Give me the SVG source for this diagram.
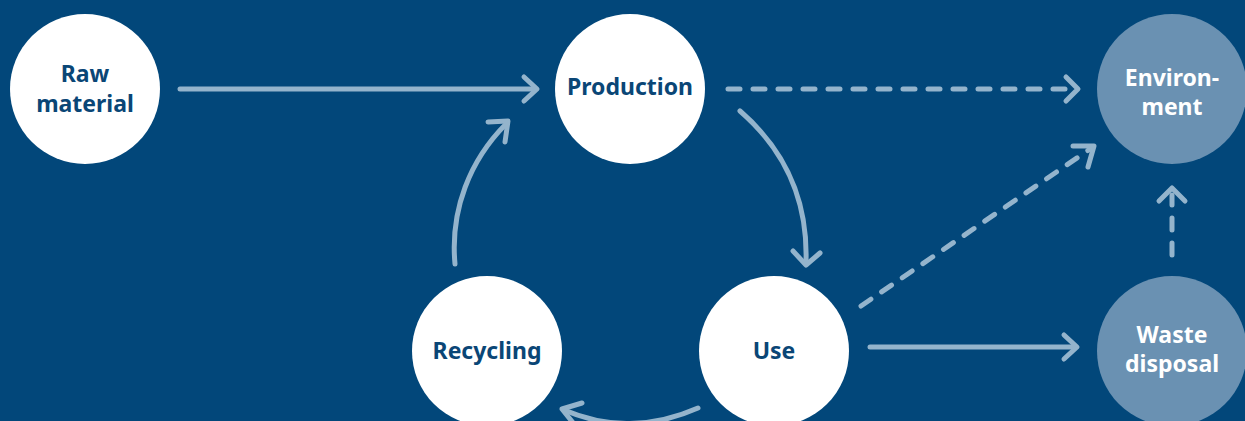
<svg xmlns="http://www.w3.org/2000/svg" width="1245" height="421" viewBox="0 0 1245 421">
<style>
.bg{fill:#02477A}
.w{fill:#FFFFFF}
.g{fill:#6A91B2}
.t{font-family:"Noto Sans","Open Sans",sans-serif;font-weight:bold;font-size:23px;text-anchor:middle}
.td{fill:#0A4676}
.tl{fill:#FFFFFF}
.c{fill:none;stroke:#94B4CC;stroke-width:5;stroke-linecap:round;stroke-linejoin:round}
.d{stroke-dasharray:12 13}
</style>
<rect class="bg" x="0" y="0" width="1245" height="421"/>
<g id="connectors">
  <path class="c" d="M180,89 H535"/>
  <path class="c" d="M524,77 L537,89 L524,101"/>
  <path class="c d" d="M728,89 H1074"/>
  <path class="c" d="M1066,77 L1078,89 L1066,101"/>
  <path class="c d" d="M861,306 L1090,149"/>
  <path class="c" d="M1073,146 L1094,146 L1088,167"/>
  <path class="c d" d="M1172,255 V195"/>
  <path class="c" d="M1159,201 L1172,188 L1185,201"/>
  <path class="c" d="M870,347 H1075"/>
  <path class="c" d="M1064,335 L1077,347 L1064,359"/>
  <path class="c" d="M740,111 C785,150 808,200 806,262"/>
  <path class="c" d="M793,251 L806,265 L820,253"/>
  <path class="c" d="M698,408 Q630,438 564,410"/>
  <path class="c" d="M582,403 L562,409 L574,424"/>
  <path class="c" d="M455,264 C450,210 470,160 506,124"/>
  <path class="c" d="M488,122 L508,121 L505,142"/>
</g>
<g id="raw-material">
  <circle class="w" cx="85" cy="89" r="75"/>
  <text class="t td" x="85" y="82">Raw</text>
  <text class="t td" x="85" y="112">material</text>
</g>
<g id="production">
  <circle class="w" cx="630" cy="89" r="75"/>
  <text class="t td" x="630" y="95">Production</text>
</g>
<g id="recycling">
  <circle class="w" cx="487" cy="351" r="75"/>
  <text class="t td" x="487" y="359">Recycling</text>
</g>
<g id="use">
  <circle class="w" cx="774" cy="351" r="75"/>
  <text class="t td" x="774" y="359">Use</text>
</g>
<g id="environment">
  <circle class="g" cx="1172" cy="89" r="75"/>
  <text class="t tl" x="1172" y="86">Environ-</text>
  <text class="t tl" x="1172" y="115">ment</text>
</g>
<g id="waste-disposal">
  <circle class="g" cx="1172" cy="351" r="75"/>
  <text class="t tl" x="1172" y="343">Waste</text>
  <text class="t tl" x="1172" y="372">disposal</text>
</g>
</svg>
